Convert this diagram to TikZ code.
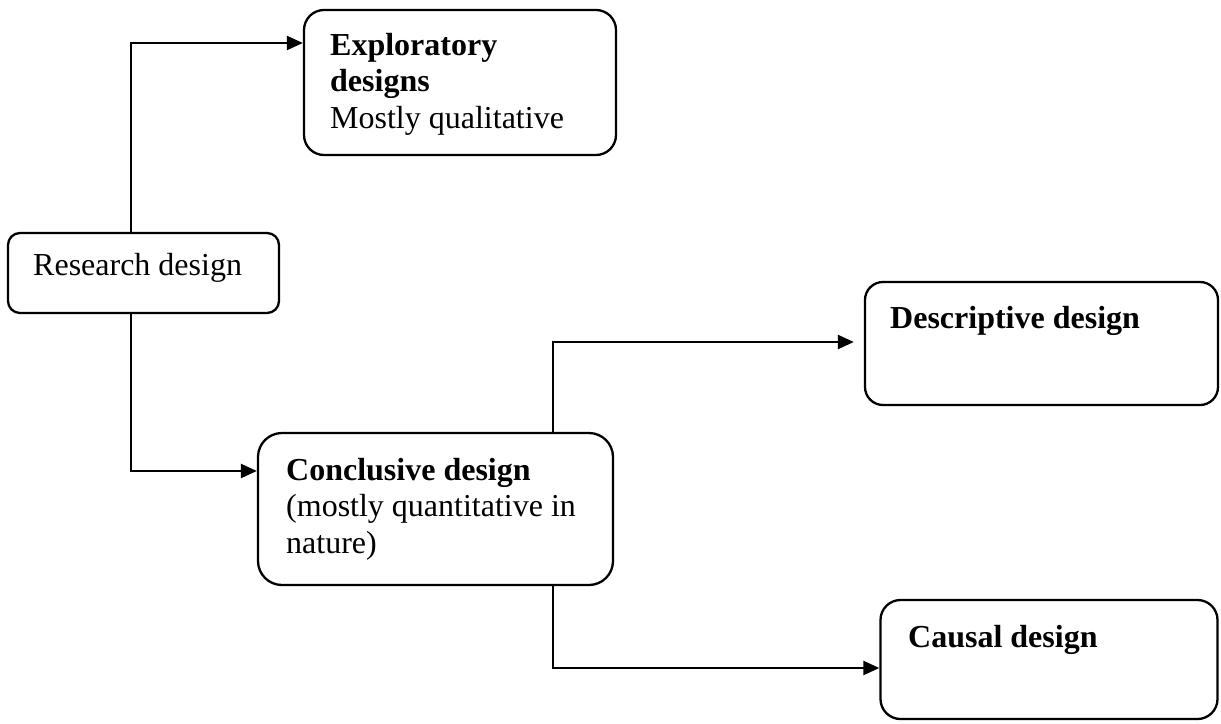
\documentclass[tikz,border=0pt]{standalone}
\usepackage{fontspec}
\setmainfont{Liberation Serif}
\usetikzlibrary{arrows.meta}
\begin{document}
\begin{tikzpicture}[x=1pt,y=-1pt,
  box/.style={draw,line width=2.3pt,rounded corners=#1,inner sep=0pt},
  box/.default=18pt,
  % base west of a multi-line label sits on its last baseline
  txt/.style={anchor=base west,inner sep=0pt,align=left,
    font=\fontsize{32}{36.5}\selectfont},
  arr/.style={line width=2.3pt,-{Triangle[length=16pt,width=14pt]}}]
\useasboundingbox (0,0) rectangle (1221,723);

% boxes, given by centre and size
\node[box=20pt] (explor) at (460,82.5) [minimum width=312pt,minimum height=145pt] {};
\node[box=12pt] (research) at (143.5,273) [minimum width=271pt,minimum height=80pt] {};
\node[box=24pt] (concl) at (435.5,509) [minimum width=355pt,minimum height=152pt] {};
\node[box=18pt] (desc) at (1041.5,343.5) [minimum width=353pt,minimum height=123pt] {};
\node[box=20pt] (causal) at (1049,659.5) [minimum width=337pt,minimum height=119pt] {};

% labels
\node[txt] (tExplor) at (330,128) {\textbf{Exploratory}\\\textbf{designs}\\Mostly qualitative};
\node[txt] (tResearch) at (33,275) {Research design};
\node[txt] (tConcl) at (286,553) {\textbf{Conclusive design}\\(mostly quantitative in\\nature)};
\node[txt] (tDesc) at (890,328) {\textbf{Descriptive design}};
\node[txt] (tCausal) at (908,647) {\textbf{Causal design}};

% elbow points of the connectors
\coordinate (j1) at (131,43);
\coordinate (j2) at (131,471);
\coordinate (j3) at (553,342);
\coordinate (j4) at (553,668);

\draw[arr] (research.north -| j1) -- (j1) -- (explor.west |- j1);
\draw[arr] (research.south -| j2) -- (j2) -- (concl.west |- j2);
\draw[arr,shorten >=10pt] (concl.north -| j3) -- (j3) -- (desc.west |- j3);
\draw[arr] (concl.south -| j4) -- (j4) -- (causal.west |- j4);
\end{tikzpicture}
\end{document}
